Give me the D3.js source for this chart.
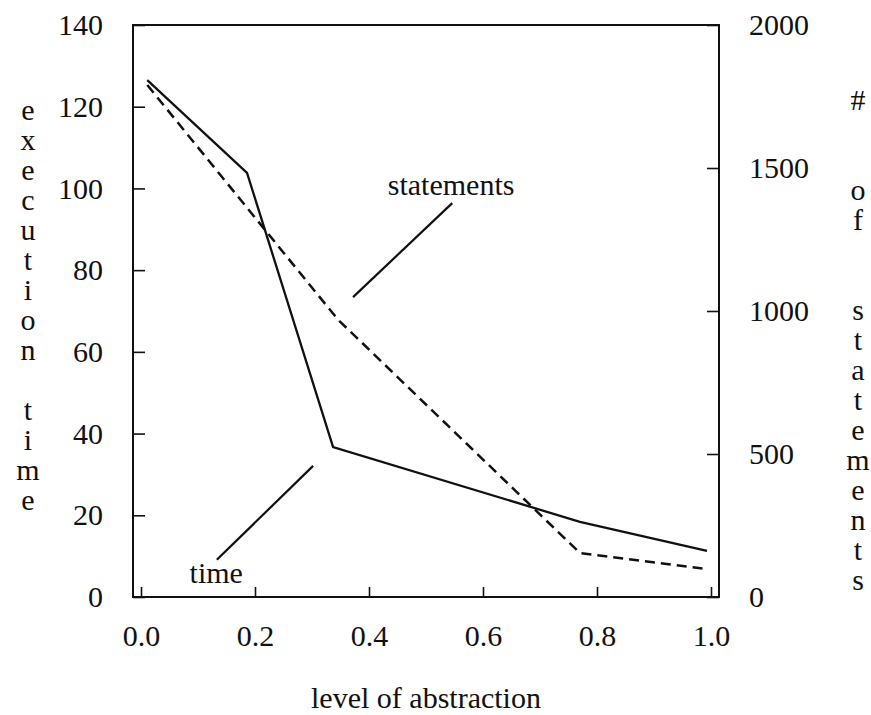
<!DOCTYPE html>
<html>
<head>
<meta charset="utf-8">
<script src="https://cdn.jsdelivr.net/npm/d3@7"></script>
<style>
  body { margin: 0; background: #fff; }
</style>
</head>
<body>
<svg id="chart"></svg>
<script>
// values
const xTicks = [0, 0.2, 0.4, 0.6, 0.8, 1.0];
const timeTicks = [0, 20, 40, 60, 80, 100, 120, 140];
const stmtTicks = [0, 500, 1000, 1500, 2000];

const timeX = [0.011, 0.186, 0.337, 0.770, 0.993];
const timeY = [126.5, 103.8, 36.7, 18.4, 11.3];

const stmtX = [0.011, 0.346, 0.770, 0.993];
const stmtY = [1790, 969, 154, 98];

// annotation labels with leader lines (x in abstraction, y in time units)
const notes = [
  { text: "statements", x: 0.544, y: 98.4, from: [0.546, 96.4], to: [0.372, 73.4] },
  { text: "time", x: 0.132, y: 3.4, from: [0.302, 32.1], to: [0.133, 9.1] }
];

const width = 871, height = 715;
const margin = { top: 25, right: 152, bottom: 118, left: 133 };
const w = width - margin.left - margin.right;
const h = height - margin.top - margin.bottom;
const fs = 30;
const serif = "'Liberation Serif', 'Times New Roman', Times, 'DejaVu Serif', serif";

const svg = d3.select("#chart").attr("width", width).attr("height", height)
  .style("font-family", serif);
const g = svg.append("g").attr("transform", `translate(${margin.left},${margin.top})`);

const x = d3.scaleLinear().domain([0, 1]).range([8, 578]);
const yT = d3.scaleLinear().domain([0, 140]).range([h, 0]);
const yS = d3.scaleLinear().domain([0, 2000]).range([h, 0]);

g.append("g")
  .attr("transform", `translate(0,${h})`)
  .call(d3.axisBottom(x).tickValues(xTicks).tickFormat(d3.format(".1f")).tickSize(-10).tickPadding(28));

g.append("g")
  .call(d3.axisLeft(yT).tickValues(timeTicks).tickSize(-12).tickPadding(30));

g.append("g")
  .attr("transform", `translate(${w},0)`)
  .call(d3.axisRight(yS).tickValues(stmtTicks).tickFormat(d3.format("d")).tickSize(-12).tickPadding(30));

g.selectAll(".domain").remove();
g.selectAll(".tick line").attr("stroke", "#111").attr("stroke-width", 1.6);
g.selectAll(".tick text")
  .attr("fill", "#111")
  .attr("font-size", fs)
  .style("font-family", serif);
g.selectAll("g").attr("font-family", null);

g.append("rect")
  .attr("width", w).attr("height", h)
  .attr("fill", "none").attr("stroke", "#111").attr("stroke-width", 2);

const line = d3.line();

g.append("path")
  .attr("d", line(timeX.map((v, i) => [x(v), yT(timeY[i])])))
  .attr("fill", "none").attr("stroke", "#111").attr("stroke-width", 2.3);

g.append("path")
  .attr("d", line(stmtX.map((v, i) => [x(v), yS(stmtY[i])])))
  .attr("fill", "none").attr("stroke", "#111").attr("stroke-width", 2.5)
  .attr("stroke-dasharray", "10,6");

notes.forEach(n => {
  g.append("line")
    .attr("x1", x(n.from[0])).attr("y1", yT(n.from[1]))
    .attr("x2", x(n.to[0])).attr("y2", yT(n.to[1]))
    .attr("stroke", "#111").attr("stroke-width", 2.2);
  g.append("text")
    .attr("x", x(n.x)).attr("y", yT(n.y))
    .attr("text-anchor", "middle")
    .attr("font-size", fs).attr("fill", "#111")
    .style("font-family", serif)
    .text(n.text);
});

// axis titles
svg.append("text")
  .attr("x", margin.left + w / 2).attr("y", 708)
  .attr("text-anchor", "middle").attr("font-size", fs).attr("fill", "#111")
  .style("font-family", serif)
  .text("level of abstraction");

function stacked(str, cx, y0) {
  const t = svg.append("text").attr("text-anchor", "middle")
    .attr("font-size", fs).attr("fill", "#111").style("font-family", serif);
  str.split("").forEach((ch, i) => {
    t.append("tspan").attr("x", cx).attr("y", y0 + i * 30).text(ch === " " ? "\u00a0" : ch);
  });
}
stacked("execution time", 28, 120);
stacked("#  of  statements", 858, 110);
</script>
</body>
</html>
